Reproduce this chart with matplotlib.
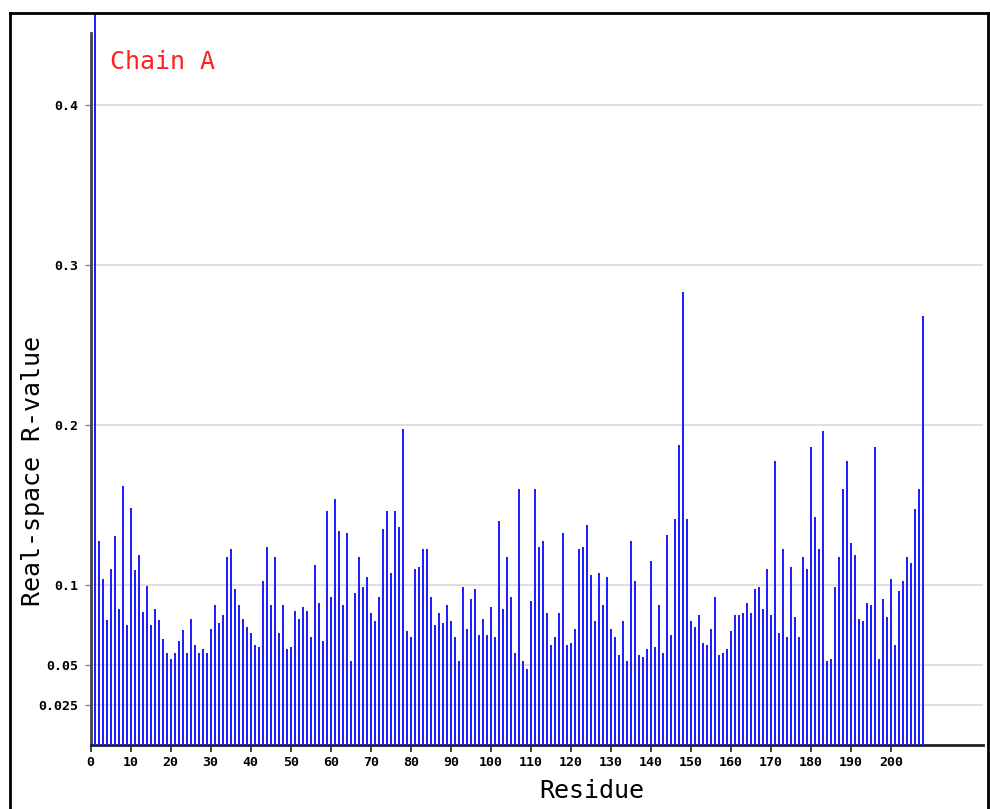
import matplotlib
matplotlib.use("Agg")
import matplotlib.pyplot as plt
from matplotlib.lines import Line2D

# Data
residues = list(range(1, 209))
rvalues = [
    0.460, 0.1277, 0.1040, 0.0779, 0.1102, 0.1304, 0.0852, 0.1617, 0.0752, 0.1479,
    0.1092, 0.1190, 0.0829, 0.0992, 0.0752, 0.0852, 0.0779, 0.0665, 0.0577, 0.0540,
    0.0577, 0.0652, 0.0717, 0.0577, 0.0790, 0.0627, 0.0577, 0.0602, 0.0577, 0.0727,
    0.0877, 0.0765, 0.0815, 0.1177, 0.1227, 0.0977, 0.0877, 0.0790, 0.0740, 0.0702,
    0.0627, 0.0615, 0.1027, 0.1240, 0.0877, 0.1177, 0.0702, 0.0877, 0.0602, 0.0615,
    0.0840, 0.0790, 0.0865, 0.0840, 0.0677, 0.1127, 0.0890, 0.0652, 0.1465, 0.0927,
    0.1540, 0.1340, 0.0877, 0.1327, 0.0527, 0.0952, 0.1177, 0.0990, 0.1052, 0.0827,
    0.0777, 0.0927, 0.1352, 0.1465, 0.1077, 0.1465, 0.1365, 0.1977, 0.0715, 0.0677,
    0.1102, 0.1115, 0.1227, 0.1227, 0.0927, 0.0752, 0.0827, 0.0765, 0.0877, 0.0777,
    0.0677, 0.0527, 0.0990, 0.0727, 0.0915, 0.0977, 0.0690, 0.0790, 0.0690, 0.0865,
    0.0677, 0.1402, 0.0852, 0.1177, 0.0927, 0.0577, 0.1602, 0.0527, 0.0477, 0.0902,
    0.1602, 0.1240, 0.1277, 0.0827, 0.0627, 0.0677, 0.0827, 0.1327, 0.0627, 0.0640,
    0.0727, 0.1227, 0.1240, 0.1377, 0.1065, 0.0777, 0.1077, 0.0877, 0.1052, 0.0727,
    0.0677, 0.0565, 0.0777, 0.0527, 0.1277, 0.1027, 0.0565, 0.0552, 0.0602, 0.1152,
    0.0615, 0.0877, 0.0577, 0.1315, 0.0690, 0.1415, 0.1877, 0.2831, 0.1415, 0.0777,
    0.0740, 0.0815, 0.0640, 0.0627, 0.0727, 0.0927, 0.0565, 0.0577, 0.0602, 0.0715,
    0.0815, 0.0815, 0.0827, 0.0890, 0.0827, 0.0977, 0.0990, 0.0852, 0.1102, 0.0815,
    0.1777, 0.0702, 0.1227, 0.0677, 0.1115, 0.0802, 0.0677, 0.1177, 0.1102, 0.1865,
    0.1427, 0.1227, 0.1965, 0.0527, 0.0540, 0.0990, 0.1177, 0.1602, 0.1777, 0.1265,
    0.1190, 0.0790, 0.0777, 0.0890, 0.0877, 0.1865, 0.0540, 0.0915, 0.0802, 0.1040,
    0.0627, 0.0965, 0.1027, 0.1177, 0.1140, 0.1477, 0.1602, 0.2680,
]
ytick_vals = [0.025, 0.05, 0.1, 0.2, 0.3, 0.4]
ytick_labels = ["0.025", "0.05", "0.1", "0.2", "0.3", "0.4"]
xtick_vals = list(range(0, 201, 10))
title_text = "Chain A"

mono = "DejaVu Sans Mono"

fig = plt.figure(figsize=(9.9, 8.09), dpi=100)
fig.patch.set_facecolor("white")
ax = fig.add_axes([0.0916, 0.0791, 0.9013, 0.9048])

ax.bar(residues, rvalues, width=0.55, color="#1f1fff", edgecolor="none", zorder=3)

ax.set_xlim(0, 223)
ax.set_ylim(0, 0.4575)

for v in ytick_vals:
    ax.axhline(v, color="#dddddd", lw=1.3, zorder=1)

ax.set_yticks(ytick_vals)
ax.set_yticklabels(ytick_labels, fontfamily=mono, fontweight="bold", fontsize=9.5)
ax.set_xticks(xtick_vals)
ax.set_xticklabels([str(v) for v in xtick_vals], fontfamily=mono,
                   fontweight="bold", fontsize=9.5)
ax.tick_params(axis="y", length=4, width=1, color="#888888", pad=5)
ax.tick_params(axis="x", length=5, width=1.2, color="#222222", pad=3)

for s in ["top", "right"]:
    ax.spines[s].set_visible(False)
ax.spines["left"].set_bounds(0, 0.445)
ax.spines["left"].set_color("#444444")
ax.spines["left"].set_linewidth(2)
ax.spines["bottom"].set_color("#222222")
ax.spines["bottom"].set_linewidth(2)

ax.set_xlabel("Residue", fontfamily=mono, fontsize=18)
ax.set_ylabel("Real-space R-value", fontfamily=mono, fontsize=18)
ax.xaxis.set_label_coords(0.562, -0.063)
ax.yaxis.set_label_coords(-0.0647, 0.374)
ax.xaxis.label.set_va("center")
ax.yaxis.label.set_va("center")

ax.text(0.0216, 0.933, title_text, transform=ax.transAxes, color="#ff2020",
        fontfamily=mono, fontsize=18, va="center", ha="left")

# figure border
bx0, bx1, by1 = 9.5 / 990, 987.5 / 990, 1 - 13 / 809
fig.add_artist(Line2D([bx0, bx0], [0, by1], transform=fig.transFigure, color="black", lw=2))
fig.add_artist(Line2D([bx0, bx1], [by1, by1], transform=fig.transFigure, color="black", lw=2))
fig.add_artist(Line2D([bx1, bx1], [0, by1], transform=fig.transFigure, color="black", lw=2))

fig.savefig("out.png", dpi=100)
